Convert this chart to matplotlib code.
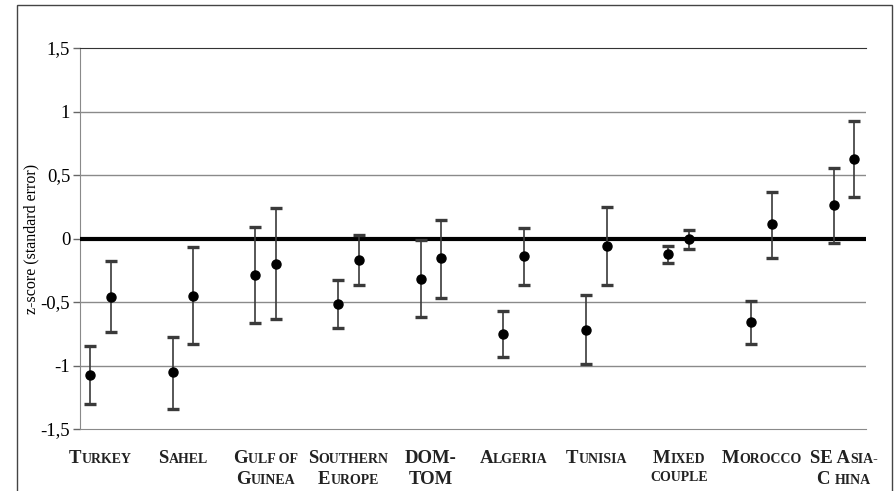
import numpy as np
import matplotlib
matplotlib.use("Agg")
import matplotlib.pyplot as plt
from matplotlib.patches import Rectangle
from matplotlib.offsetbox import TextArea, HPacker, VPacker, AnnotationBbox

# upper case = full capital, lower case = small capital
categories = ["Turkey", "Sahel", "Gulf of\nGuinea", "Southern\nEurope", "DOM-\nTOM",
              "Algeria", "Tunisia", "Mixed\ncouple", "Morocco", "SE Asia-\nC hina"]

mean_a = [-1.075, -1.055, -0.287, -0.513, -0.32, -0.75, -0.72, -0.125, -0.655, 0.264]
low_a = [-1.30, -1.345, -0.665, -0.707, -0.62, -0.93, -0.99, -0.193, -0.83, -0.038]
high_a = [-0.85, -0.775, 0.088, -0.33, -0.01, -0.57, -0.445, -0.06, -0.495, 0.553]

mean_b = [-0.46, -0.45, -0.20, -0.17, -0.156, -0.135, -0.059, -0.006, 0.112, 0.628]
low_b = [-0.74, -0.83, -0.63, -0.364, -0.47, -0.364, -0.37, -0.083, -0.156, 0.33]
high_b = [-0.18, -0.064, 0.24, 0.025, 0.146, 0.08, 0.25, 0.07, 0.368, 0.923]

yticks = [-1.5, -1, -0.5, 0, 0.5, 1, 1.5]
ytick_labels = ["-1,5", "-1", "-0,5", "0", "0,5", "1", "1,5"]

SERIF = "Liberation Serif"
BIG = 13.5
SMALL = 10

fig = plt.figure(figsize=(8.94, 4.91), dpi=100)
fig.patches.append(Rectangle((17 / 894, -0.05), 875 / 894, 1.05 - 5 / 491,
                             transform=fig.transFigure, fill=False,
                             edgecolor="#444444", linewidth=1))
ax = fig.add_axes([80 / 894, 1 - 429 / 491, 786 / 894, 381 / 491])

x = np.arange(1, len(categories) + 1)
xa = x
xb = x + 0.25

err_a = [np.array(mean_a) - np.array(low_a), np.array(high_a) - np.array(mean_a)]
err_b = [np.array(mean_b) - np.array(low_b), np.array(high_b) - np.array(mean_b)]

for xs, m, e in [(xa, mean_a, err_a), (xb, mean_b, err_b)]:
    ax.errorbar(xs, m, yerr=e, fmt="o", color="black", markersize=6.5,
                ecolor="#3a3a3a", elinewidth=1.2, capsize=4, capthick=2.4,
                zorder=4)

ax.axhline(0, color="black", linewidth=3, zorder=3)
for v in yticks[1:-1]:
    if v != 0:
        ax.axhline(v, color="#8a8a8a", linewidth=1, zorder=1)

ax.set_xlim(0.879, 10.39)
ax.set_ylim(-1.5, 1.5)
ax.set_yticks(yticks)
ax.set_yticklabels(ytick_labels, fontfamily=SERIF, fontsize=13.5)
ax.set_xticks([])
ax.tick_params(axis="y", length=5, width=1, color="#666666", pad=2)

ax.spines["right"].set_visible(False)
ax.spines["top"].set_color("#333333")
ax.spines["bottom"].set_color("#8a8a8a")
ax.spines["left"].set_color("#8a8a8a")

ax.set_ylabel("z-score (standard error)", fontfamily=SERIF, fontsize=11.5,
              labelpad=1)


def small_caps_line(text):
    runs = []
    for ch in text:
        if ch.isalpha():
            big = ch.isupper()
        else:
            big = runs[-1][1] if runs else True
        if runs and runs[-1][1] == big:
            runs[-1][0] += ch
        else:
            runs.append([ch, big])
    parts = [TextArea(s.upper(), textprops=dict(fontfamily=SERIF, fontweight="bold",
                                                fontsize=BIG if big else SMALL,
                                                color="#222222"))
             for s, big in runs]
    return HPacker(children=parts, align="baseline", pad=0, sep=0)


for xi, cat in zip(x, categories):
    lines = [small_caps_line(t) for t in cat.split("\n")]
    box = VPacker(children=lines, align="center", pad=0, sep=3)
    ab = AnnotationBbox(box, (xi + 0.125, -0.055), xycoords=("data", "axes fraction"),
                        box_alignment=(0.5, 1), frameon=False, annotation_clip=False)
    ax.add_artist(ab)

fig.savefig("out.png", dpi=100)
